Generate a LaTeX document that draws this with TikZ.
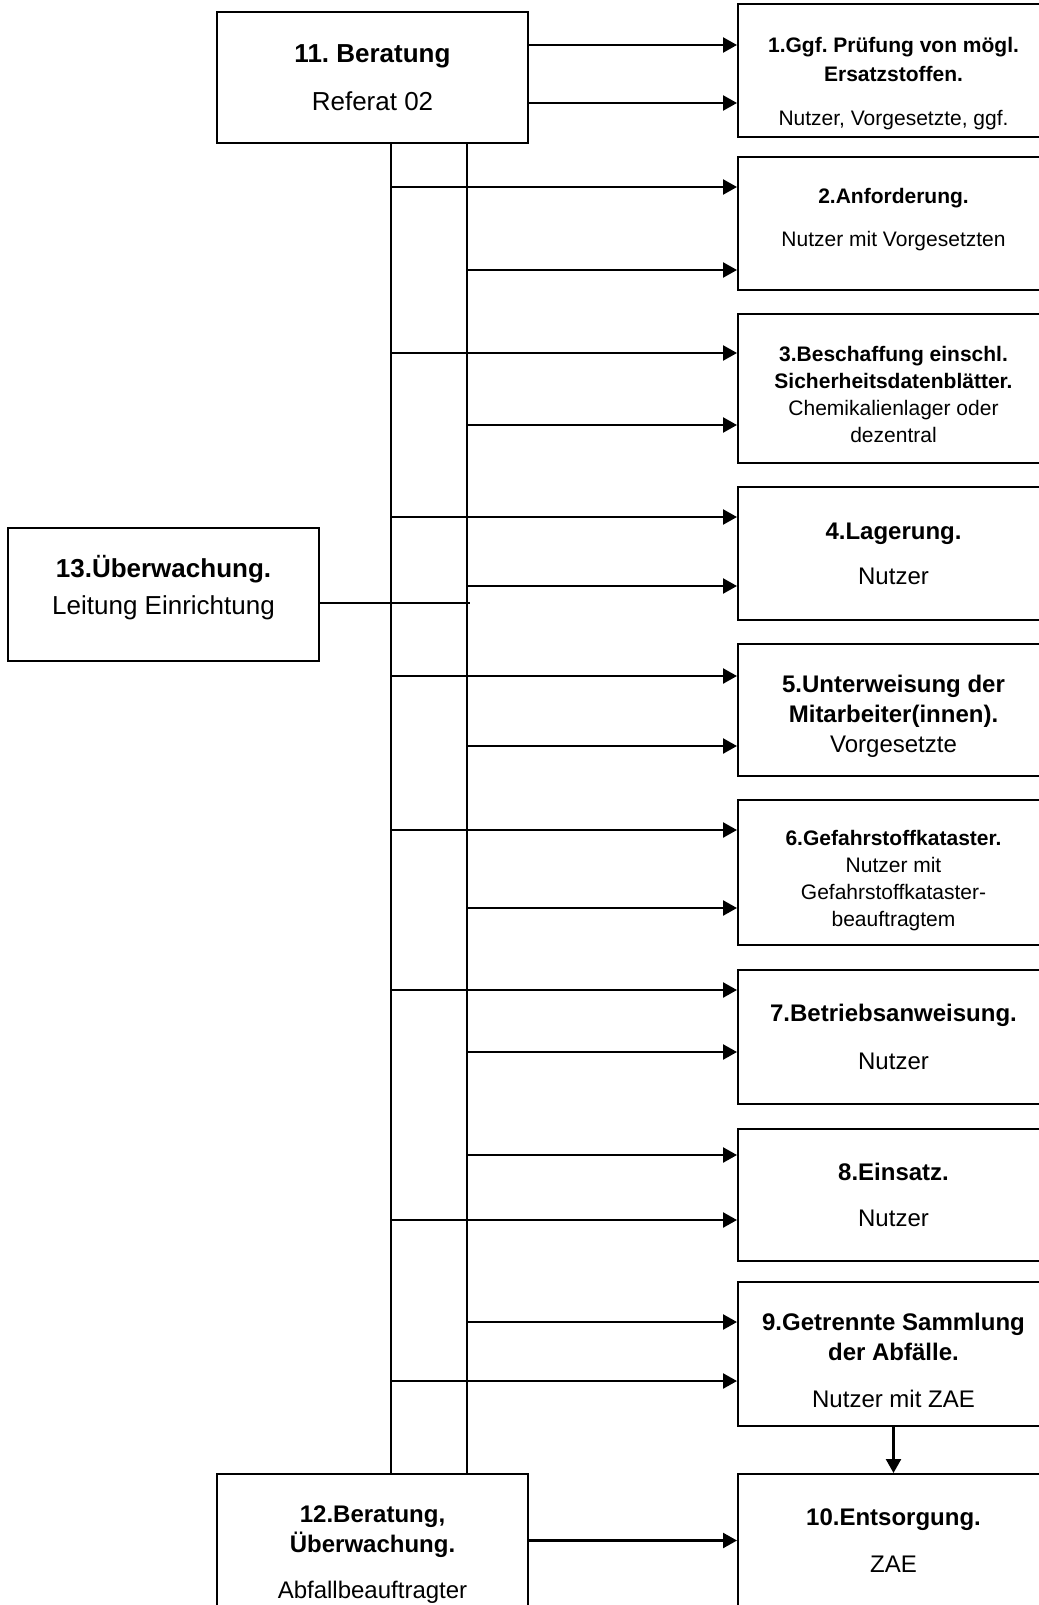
\documentclass[tikz,border=0pt]{standalone}
\usepackage{fontspec}
\setmainfont{Liberation Sans}
\usetikzlibrary{
    arrows.meta,
    positioning
}
\frenchspacing

\begin{document}
\begin{tikzpicture}[
x=0.5pt, y=-0.5pt,
box/.style={
draw,
line width=1pt,
minimum width=155.5pt,
minimum height=66.5pt,
inner sep=2pt,
align=center,
font=\fontsize{12}{15}\selectfont
},
smallbox/.style={box, font=\fontsize{10.5}{13.5}\selectfont},
bigbox/.style={box, font=\fontsize{13}{16}\selectfont},
arr/.style={-{Triangle[length=7pt,width=7.5pt]}, line width=1.2pt},
bus/.style={line width=0.8pt}
]

\useasboundingbox (0,0) rectangle (1038,1605);

\node[bigbox, minimum height=65.5pt] (b11) at (372.5,77.5)
{\textbf{11. Beratung}\\[8pt]Referat 02};

\node[smallbox, right=104pt of b11, yshift=3.5pt] (b1)
{\rule{0pt}{21pt}\textbf{1.Ggf. Prüfung von mögl.}\\[1pt]\textbf{Ersatzstoffen.}\\[8.5pt]Nutzer, Vorgesetzte, ggf.};

\node[smallbox, below=9pt of b1] (b2)
{\textbf{2.Anforderung.}\\[8pt]Nutzer mit Vorgesetzten\rule[-6.3pt]{0pt}{0pt}};

\node[smallbox, minimum height=74.5pt, below=11pt of b2] (b3)
{\rule{0pt}{13.7pt}\textbf{3.Beschaffung einschl.}\\\textbf{Sicherheitsdatenblätter.}\\Chemikalienlager oder\\dezentral};

\node[box, below=11pt of b3] (b4)
{\textbf{4.Lagerung.}\\[7.5pt]Nutzer};

\node[box, minimum height=66pt, below=11pt of b4] (b5)
{\rule{0pt}{14.8pt}\textbf{5.Unterweisung der}\\\textbf{Mitarbeiter(innen).}\\Vorgesetzte};

\node[smallbox, minimum height=72.5pt, below=11pt of b5] (b6)
{\rule{0pt}{15.7pt}\textbf{6.Gefahrstoffkataster.}\\Nutzer mit\\Gefahrstoffkataster-\\beauftragtem};

\node[box, minimum height=67pt, below=11.5pt of b6] (b7)
{\textbf{7.Betriebsanweisung.}\\[9pt]Nutzer};

\node[box, minimum height=66pt, below=11.5pt of b7] (b8)
{\textbf{8.Einsatz.}\\[8pt]Nutzer};

\node[box, minimum height=72pt, below=9.5pt of b8] (b9)
{\rule{0pt}{15.3pt}\textbf{9.Getrennte Sammlung}\\\textbf{der Abfälle.}\\[8.5pt]Nutzer mit ZAE};

\node[box, below=23pt of b9] (b10)
{\textbf{10.Entsorgung.}\\[8.5pt]ZAE};

\node[box, minimum height=81pt, anchor=north] (b12) at (b11 |- b10.north)
{\textbf{12.Beratung,}\\\textbf{Überwachung.}\\[8pt]Abfallbeauftragter};

\node[bigbox] (b13) at (163.5,594)
{\textbf{13.Überwachung.}\\[2.5pt]Leitung Einrichtung\rule[-9pt]{0pt}{0pt}};

% the two lines from 11 down to 12
\coordinate (busA) at (391,0);
\coordinate (busB) at (467,0);
\coordinate (tap) at (470,603);

\draw[bus] (b11.south -| busA) -- (b12.north -| busA);
\draw[bus] (b11.south -| busB) -- (b12.north -| busB);

\draw[bus] (b13.east |- tap) -- (tap);

\draw[arr] (b11.east |- 0,45) -- (b1.west |- 0,45);
\draw[arr] (b11.east |- 0,103) -- (b1.west |- 0,103);

\draw[arr] (busA |- 0,187) -- (b2.west |- 0,187);
\draw[arr] (busB |- 0,270) -- (b2.west |- 0,270);

\draw[arr] (busA |- 0,353) -- (b3.west |- 0,353);
\draw[arr] (busB |- 0,425) -- (b3.west |- 0,425);

\draw[arr] (busA |- 0,517) -- (b4.west |- 0,517);
\draw[arr] (busB |- 0,586) -- (b4.west |- 0,586);

\draw[arr] (busA |- 0,676) -- (b5.west |- 0,676);
\draw[arr] (busB |- 0,746) -- (b5.west |- 0,746);

\draw[arr] (busA |- 0,830) -- (b6.west |- 0,830);
\draw[arr] (busB |- 0,908) -- (b6.west |- 0,908);

\draw[arr] (busA |- 0,990) -- (b7.west |- 0,990);
\draw[arr] (busB |- 0,1052) -- (b7.west |- 0,1052);

\draw[arr] (busB |- 0,1155) -- (b8.west |- 0,1155);
\draw[arr] (busA |- 0,1220) -- (b8.west |- 0,1220);

\draw[arr] (busB |- 0,1322) -- (b9.west |- 0,1322);
\draw[arr] (busA |- 0,1381) -- (b9.west |- 0,1381);

\draw[arr] (b9) -- (b10);

\draw[arr] (b12.east |- b10) -- (b10.west);

\end{tikzpicture}
\end{document}
